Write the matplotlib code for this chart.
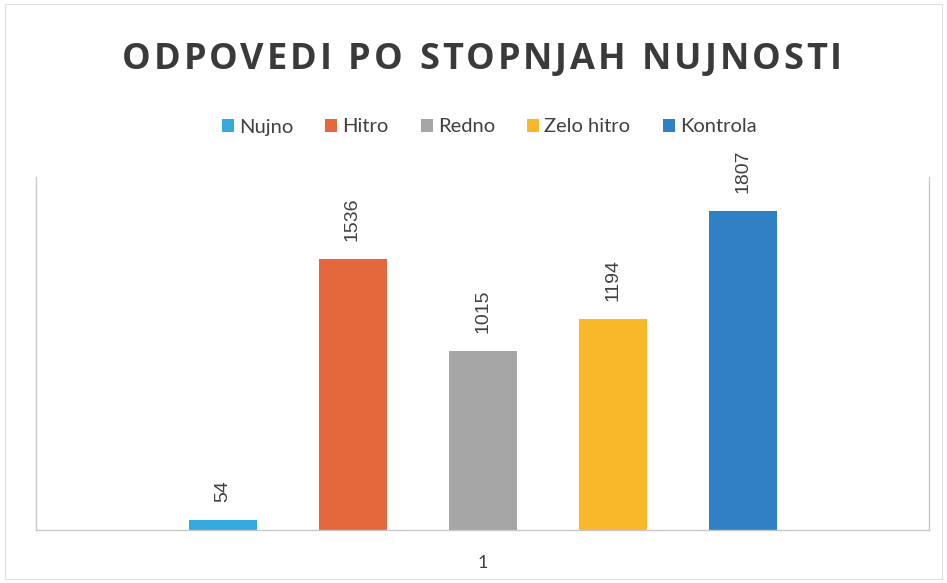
import numpy as np
import matplotlib
matplotlib.use("Agg")
import matplotlib.pyplot as plt
from matplotlib.patches import Rectangle

title = "ODPOVEDI PO STOPNJAH NUJNOSTI"
categories = ["Nujno", "Hitro", "Redno", "Zelo hitro", "Kontrola"]
values = [54, 1536, 1015, 1194, 1807]
group_label = "1"
colors = ["#35A8DE", "#E4663C", "#A6A6A6", "#F9B72A", "#2F80C4"]

fig = plt.figure(figsize=(9.47, 5.83), dpi=100)
ax = fig.add_axes([36 / 947, 1 - 530 / 583, 893 / 947, 353 / 583])

# five series side by side in one category, 130 px apart, 68 px wide
offsets = np.arange(len(values)) - (len(values) - 1) / 2
half = 893 / 2 / 130
for off, v, c, name in zip(offsets, values, colors, categories):
    ax.bar(off, v, width=68 / 130, color=c, label=name)
    ax.annotate(f"{v}", (off, v), xytext=(0, 13), textcoords="offset points",
                rotation=90, ha="center", va="bottom", fontsize=14,
                family="Liberation Sans", color="#404040")

ax.set_xlim(-half, half)
ax.set_ylim(0, 2000)
ax.set_yticks([])
ax.set_xticks([0])
ax.set_xticklabels([group_label], fontsize=13, family="Lato", color="#404040")
ax.tick_params(axis="x", length=0, pad=18)
ax.spines["top"].set_visible(False)
for s in ("left", "right", "bottom"):
    ax.spines[s].set_color("#C8C8C8")
    ax.spines[s].set_linewidth(1)

# title with extra letter spacing, drawn char by char
renderer = fig.canvas.get_renderer()
tprops = dict(fontsize=26, fontweight="bold", family="Open Sans", color="#3A3A3A", va="center")
track = 2.9  # px added after each char
widths = []
for ch in title:
    t = fig.text(0, 0, ch if ch != " " else "n", **tprops)
    w = t.get_window_extent(renderer).width
    if ch == " ":
        w *= 0.45
    widths.append(w)
    t.remove()
total = sum(widths) + track * (len(title) - 1)
x = 482 - total / 2
for ch, w in zip(title, widths):
    if ch != " ":
        fig.text(x / 947, 1 - 60 / 583, ch, ha="left", **tprops)
    x += w + track

leg = fig.legend(loc="center", bbox_to_anchor=(489 / 947, 1 - 127 / 583), ncol=5, frameon=False,
                 prop={"family": "Lato", "size": 14.5}, handlelength=0.6, handleheight=0.6,
                 handletextpad=0.25, columnspacing=1.6)
for t in leg.get_texts():
    t.set_color("#404040")

# faint frame of the chart area
fig.patches.append(Rectangle((5 / 947, 4 / 583), 937 / 947, 575 / 583, transform=fig.transFigure,
                             fill=False, edgecolor="#E0E0E0", linewidth=0.8))

fig.savefig("out.png", dpi=100)
